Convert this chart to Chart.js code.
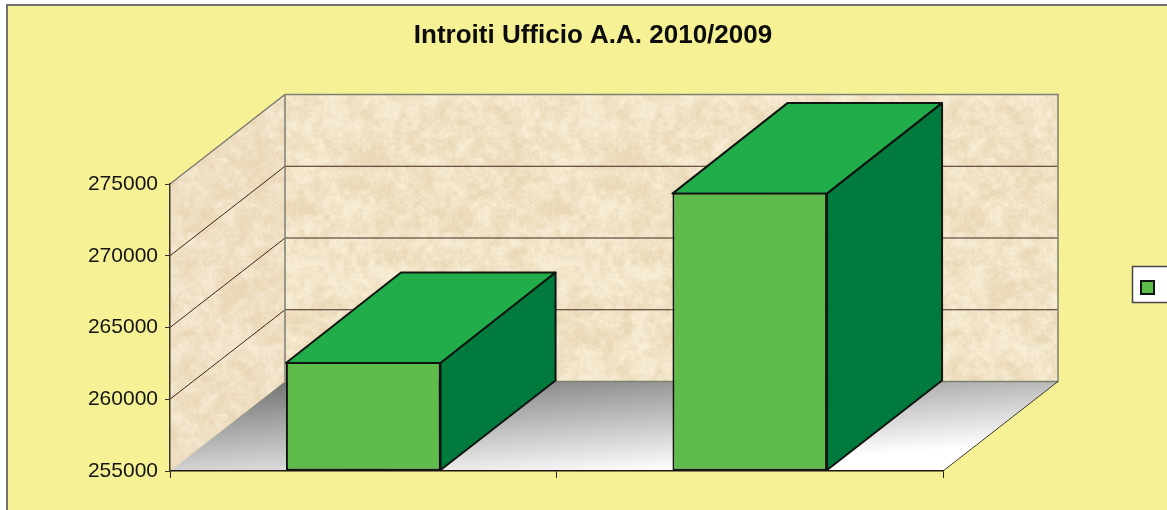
<!DOCTYPE html>
<html lang="it">
<head>
<meta charset="utf-8">
<title>Introiti Ufficio</title>
<script src="https://cdn.jsdelivr.net/npm/chart.js@4/dist/chart.umd.min.js"></script>
<style>
  html, body { margin: 0; padding: 0; background: #fff; overflow: hidden; }
  canvas { display: block; filter: blur(0.35px); }
</style>
</head>
<body>
<canvas id="chart" width="1167" height="510"></canvas>
<script>
"use strict";

// ── Data ─────────────────────────────────────────────────────────────────────
const categories = ["2009", "2010"];
const introiti   = [262600, 274400];
const yMin  = 255000;
const yMax  = 275000;
const yStep = 5000;
const chartTitle = "Introiti Ufficio A.A. 2010/2009";

// ── Styling ──────────────────────────────────────────────────────────────────
const FONT       = "'Liberation Sans', Arial, sans-serif";
const PAPER      = "#f6f195";
const FRONT      = "#5fbb4a";
const TOP        = "#21ae4a";
const SIDE       = "#007a3d";
const EDGE       = "#111511";
const WALL_EDGE  = "#7d7f70";
const GRID_LINE  = "#40261c";
const DEPTH_X    = 115;   // 3D offset of the back wall
const DEPTH_Y    = -89.5;
const BAR_DEPTH_X = 115;
const BAR_DEPTH_Y = -90.5;

// ── Wall texture (deterministic mottled noise) ───────────────────────────────
function hash(x, y) {
  const s = Math.sin(x * 127.1 + y * 311.7) * 43758.5453;
  return s - Math.floor(s);
}

function smoothNoise(x, y, period) {
  const xi = Math.floor(x), yi = Math.floor(y);
  const fx = x - xi, fy = y - yi;
  const u = fx * fx * (3 - 2 * fx), v = fy * fy * (3 - 2 * fy);
  const h = (a, b) => hash((a + period) % period, (b + period) % period);
  return (h(xi, yi) * (1 - u) + h(xi + 1, yi) * u) * (1 - v)
       + (h(xi, yi + 1) * (1 - u) + h(xi + 1, yi + 1) * u) * v;
}

function makeTexture(ctx) {
  const size = 256;
  const off = document.createElement("canvas");
  off.width = off.height = size;
  const octx = off.getContext("2d");
  const img = octx.createImageData(size, size);
  for (let y = 0; y < size; y++) {
    for (let x = 0; x < size; x++) {
      const n = 0.35 * smoothNoise(x / 16, y / 16, 16)
              + 0.35 * smoothNoise(x / 6.4, y / 6.4, 40)
              + 0.30 * smoothNoise(x / 2.56, y / 2.56, 100);
      const t = Math.min(1, Math.max(0, (n - 0.25) * 2));
      const i = (y * size + x) * 4;
      img.data[i]     = 234 + 13 * t;
      img.data[i + 1] = 217 + 19 * t;
      img.data[i + 2] = 184 + 28 * t;
      img.data[i + 3] = 255;
    }
  }
  octx.putImageData(img, 0, 0);
  return ctx.createPattern(off, "repeat");
}

function poly(ctx, pts) {
  ctx.beginPath();
  ctx.moveTo(pts[0][0], pts[0][1]);
  for (let i = 1; i < pts.length; i++) ctx.lineTo(pts[i][0], pts[i][1]);
  ctx.closePath();
}

function floorGradient(ctx, x0, y0) {
  // grey gets lighter towards the front and slightly towards the right
  const gx = 0.27 / 773, gy = 0.4 / 88;
  const t = 0.54 / (gx * gx + gy * gy);
  const g = ctx.createLinearGradient(x0, y0, x0 + t * gx, y0 + t * gy);
  g.addColorStop(0, "#757575");
  g.addColorStop(1, "#ffffff");
  return g;
}

// ── Plugin: panel, walls, floor and the depth faces of the bars ──────────────
let wallPattern = null;

const box3d = {
  id: "box3d",
  beforeDraw(chart) {
    const { ctx, chartArea: a, scales } = chart;
    const y = scales.y;
    if (!wallPattern) wallPattern = makeTexture(ctx);

    ctx.save();
    ctx.fillStyle = "#fff";
    ctx.fillRect(0, 0, chart.width, chart.height);
    ctx.fillStyle = PAPER;
    ctx.fillRect(7, 5, chart.width, chart.height);
    ctx.strokeStyle = "#75716a";
    ctx.lineWidth = 2;
    ctx.beginPath();
    ctx.moveTo(7, chart.height);
    ctx.lineTo(7, 5);
    ctx.lineTo(chart.width, 5);
    ctx.stroke();

    const l = a.left, r = a.right, t = a.top, b = a.bottom;
    const dx = DEPTH_X, dy = DEPTH_Y;

    // back wall
    ctx.fillStyle = wallPattern;
    ctx.fillRect(l + dx, t + dy, r - l, b - t);

    // side wall
    poly(ctx, [[l, t], [l + dx, t + dy], [l + dx, b + dy], [l, b]]);
    ctx.fill();
    ctx.fillStyle = "rgba(225, 185, 165, 0.06)";
    ctx.fill();

    // floor
    poly(ctx, [[l, b], [r, b], [r + dx, b + dy], [l + dx, b + dy]]);
    ctx.fillStyle = floorGradient(ctx, l + dx, b + dy);
    ctx.fill();

    // grid lines on both walls
    ctx.lineWidth = 1;
    ctx.strokeStyle = GRID_LINE;
    for (let v = yMin + yStep; v < yMax; v += yStep) {
      const py = y.getPixelForValue(v);
      ctx.beginPath();
      ctx.moveTo(l, py);
      ctx.lineTo(l + dx, py + dy);
      ctx.lineTo(r + dx, py + dy);
      ctx.stroke();
    }

    // wall outlines
    ctx.lineWidth = 1.5;
    ctx.strokeStyle = WALL_EDGE;
    ctx.beginPath();
    ctx.moveTo(l, t);
    ctx.lineTo(l + dx, t + dy);
    ctx.lineTo(r + dx, t + dy);
    ctx.lineTo(r + dx, b + dy);
    ctx.lineTo(l + dx, b + dy);
    ctx.moveTo(l + dx, t + dy);
    ctx.lineTo(l + dx, b + dy);
    ctx.stroke();

    ctx.lineWidth = 1;
    ctx.strokeStyle = "#3c3c30";
    ctx.beginPath();
    ctx.moveTo(r, b);
    ctx.lineTo(r + dx, b + dy);
    ctx.stroke();
    ctx.restore();
  },
  afterDatasetsDraw(chart) {
    const { ctx } = chart;
    const dx = BAR_DEPTH_X, dy = BAR_DEPTH_Y;
    ctx.save();
    ctx.lineWidth = 2;
    ctx.lineJoin = "round";
    ctx.strokeStyle = EDGE;
    chart.getDatasetMeta(0).data.forEach(bar => {
      const left = bar.x - bar.width / 2, right = bar.x + bar.width / 2;
      const top = bar.y + 1, base = bar.base - 0.5;
      poly(ctx, [[left, top], [right, top], [right + dx, top + dy], [left + dx, top + dy]]);
      ctx.fillStyle = TOP;
      ctx.fill();
      ctx.stroke();
      poly(ctx, [[right, top], [right + dx, top + dy], [right + dx, base + DEPTH_Y], [right, base]]);
      ctx.fillStyle = SIDE;
      ctx.fill();
      ctx.stroke();
    });
    ctx.restore();
  },
  afterDraw(chart) {
    // legend box, cut off by the right edge of the picture
    const { ctx } = chart;
    ctx.save();
    ctx.fillStyle = "#fff";
    ctx.strokeStyle = "#4a4644";
    ctx.lineWidth = 1.5;
    ctx.fillRect(1132.5, 266.5, 50, 36);
    ctx.strokeRect(1132.5, 266.5, 50, 36);
    ctx.fillStyle = FRONT;
    ctx.strokeStyle = EDGE;
    ctx.lineWidth = 2;
    ctx.fillRect(1141, 281, 13, 13);
    ctx.strokeRect(1141, 281, 13, 13);
    ctx.restore();
  },
};

// ── Chart ────────────────────────────────────────────────────────────────────
new Chart(document.getElementById("chart"), {
  type: "bar",
  data: {
    labels: categories,
    datasets: [{
      data: introiti,
      base: yMin,
      backgroundColor: FRONT,
      borderColor: EDGE,
      borderWidth: 2,
      borderSkipped: false,
      barPercentage: 0.4,
      categoryPercentage: 1,
    }],
  },
  options: {
    responsive: false,
    animation: false,
    layout: { padding: { left: 19, right: 0, top: 0, bottom: 32 } },
    plugins: {
      legend: { display: false },
      tooltip: { enabled: false },
      title: {
        display: true,
        text: chartTitle,
        color: "#0c0c0c",
        font: { family: FONT, size: 26, weight: "bold", lineHeight: 1.2 },
        padding: { top: 20.4, bottom: 132.4 },
      },
    },
    scales: {
      x: {
        offset: true,
        grid: { offset: true, drawOnChartArea: false, tickLength: 7, color: "#222" },
        border: { color: "#1d1410", width: 1.5 },
        ticks: { display: false },
        afterFit: s => { s.height = 7; },
      },
      y: {
        min: yMin,
        max: yMax,
        grid: { drawOnChartArea: false, tickLength: 5, color: "#333" },
        border: { color: "#3a3630", width: 1.5 },
        ticks: {
          stepSize: yStep,
          padding: 7,
          color: "#141414",
          font: { family: FONT, size: 21 },
          callback: v => String(v),
        },
        afterFit: s => { s.width = 151; },
      },
      // keeps the right-hand margin where the legend sits
      margin: {
        position: "right",
        grid: { display: false },
        border: { display: false },
        ticks: { display: false },
        afterFit: s => { s.width = 224; },
      },
    },
  },
  plugins: [box3d],
});
</script>
</body>
</html>
